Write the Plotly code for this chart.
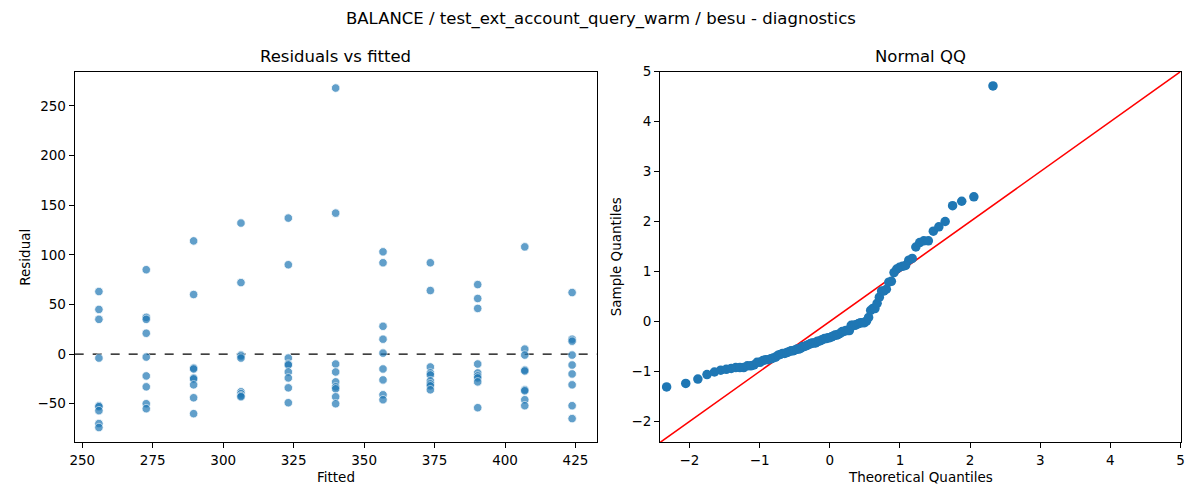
from statistics import NormalDist

import numpy as np
import plotly.graph_objects as go

# fitted value levels (one column of points per level)
fitted_levels = [255.9, 272.7, 289.5, 306.3, 323.1, 339.9, 356.7, 373.5, 390.3, 407.0, 423.8]

# residuals, one list per fitted level
res_256 = [63, 45, 35, -4, -52, -53, -57, -70, -74]
res_273 = [85, 37, 35, 21, -3, -22, -33, -50, -55]
res_290 = [114, 60, -14, -15, -24, -25, -31, -44, -60]
res_306 = [132, 72, -1, -2, -4, -38, -40, -42, -43]
res_323 = [137, 90, -4, -10, -11, -18, -24, -34, -49]
res_340 = [268, 142, -10, -18, -28, -33, -35, -43, -50]
res_357 = [103, 92, 28, 15, 1, -15, -26, -41, -46]
res_374 = [92, 64, -13, -19, -21, -27, -30, -32, -36]
res_390 = [70, 56, 46, -10, -19, -22, -24, -28, -54]
res_407 = [108, 5, -1, -16, -17, -36, -37, -46, -52]
res_424 = [62, 15, 13, -1, -11, -20, -31, -52, -65]

res_cols = [res_256, res_273, res_290, res_306, res_323, res_340,
            res_357, res_374, res_390, res_407, res_424]

fitted = []
resid = []
for lvl, col in zip(fitted_levels, res_cols):
    fitted += [lvl] * len(col)
    resid += col
resid = np.array(resid, dtype=float)

# normal QQ: standardised sorted residuals vs normal quantiles
n = len(resid)
sample_q = np.sort((resid - resid.mean()) / resid.std())
theo_q = np.array([NormalDist().inv_cdf(i / (n + 1)) for i in range(1, n + 1)])

qq_range = [-2.42, 5.0]

FONT = "DejaVu Sans"
BLUE = "#1f77b4"

# panel placement on the page (paper fractions)
LEFT_DOM = [0.0585, 0.497]
RIGHT_DOM = [0.55, 0.987]
Y_DOM = [0.117, 0.8706]

fig = go.Figure()

fig.add_trace(go.Scatter(
    x=fitted, y=resid, mode="markers",
    marker=dict(color=BLUE, size=8.5, opacity=0.7, line=dict(color="white", width=0.8)),
    xaxis="x", yaxis="y", showlegend=False, hoverinfo="skip",
))

fig.add_trace(go.Scatter(
    x=qq_range, y=qq_range, mode="lines",
    line=dict(color="red", width=1.6),
    xaxis="x2", yaxis="y2", showlegend=False, hoverinfo="skip",
))
fig.add_trace(go.Scatter(
    x=theo_q, y=sample_q, mode="markers",
    marker=dict(color=BLUE, size=9.5, line=dict(color=BLUE, width=0)),
    xaxis="x2", yaxis="y2", showlegend=False, hoverinfo="skip",
))

axis_common = dict(
    showline=True, linecolor="black", linewidth=1, mirror=True,
    ticks="outside", ticklen=5, tickcolor="black", tickwidth=1,
    showgrid=False, zeroline=False,
    tickfont=dict(family=FONT, size=13.5, color="black"),
)

fig.update_layout(
    width=1200, height=500,
    margin=dict(l=0, r=0, t=0, b=0),
    paper_bgcolor="white", plot_bgcolor="white",
    font=dict(family=FONT, color="black"),
    xaxis=dict(domain=LEFT_DOM, range=[247.3, 432.6],
               tickvals=[250, 275, 300, 325, 350, 375, 400, 425], anchor="y", **axis_common),
    yaxis=dict(domain=Y_DOM, range=[-89.0, 284.5],
               tickvals=[-50, 0, 50, 100, 150, 200, 250], ticktext=["\u221250", "0", "50", "100", "150", "200", "250"],
               anchor="x", **axis_common),
    xaxis2=dict(domain=RIGHT_DOM, range=qq_range,
                tickvals=[-2, -1, 0, 1, 2, 3, 4, 5], ticktext=["\u22122", "\u22121", "0", "1", "2", "3", "4", "5"],
                anchor="y2", **axis_common),
    yaxis2=dict(domain=Y_DOM, range=qq_range,
                tickvals=[-2, -1, 0, 1, 2, 3, 4, 5], ticktext=["\u22122", "\u22121", "0", "1", "2", "3", "4", "5"],
                anchor="x2", **axis_common),
    shapes=[dict(type="line", xref="x domain", yref="y", x0=0, x1=1, y0=0, y1=0,
                 line=dict(color="black", width=1.2, dash="dash"), layer="below")],
)

lx = sum(LEFT_DOM) / 2
rx = sum(RIGHT_DOM) / 2
ann = [
    dict(text="BALANCE / test_ext_account_query_warm / besu - diagnostics", x=0.5, y=1 - 11 / 500, size=16.5),
    dict(text="Residuals vs fitted", x=lx, y=1 - 49.5 / 500, size=16.5),
    dict(text="Normal QQ", x=rx, y=1 - 49.5 / 500, size=16.5),
    dict(text="Fitted", x=lx, y=1 - 477 / 500, size=13.5),
    dict(text="Theoretical Quantiles", x=rx, y=1 - 477 / 500, size=13.5),
]
for a in ann:
    fig.add_annotation(text=a["text"], x=a["x"], y=a["y"], xref="paper", yref="paper",
                       showarrow=False, xanchor="center", yanchor="middle",
                       font=dict(family=FONT, size=a["size"], color="black"))

fig.add_annotation(text="Residual", x=20 / 1200, y=1 - 253 / 500, xref="paper", yref="paper",
                   showarrow=False, textangle=-90, xanchor="center", yanchor="middle",
                   font=dict(family=FONT, size=13.5, color="black"))
fig.add_annotation(text="Sample Quantiles", x=616 / 1200, y=1 - 253 / 500, xref="paper", yref="paper",
                   showarrow=False, textangle=-90, xanchor="center", yanchor="middle",
                   font=dict(family=FONT, size=13.5, color="black"))

# drop the default page margin so the figure sits at the window corner
fig.write_html("out.html", config={"displayModeBar": False},
               post_script="document.body.style.margin='0';document.body.style.overflow='hidden';")
